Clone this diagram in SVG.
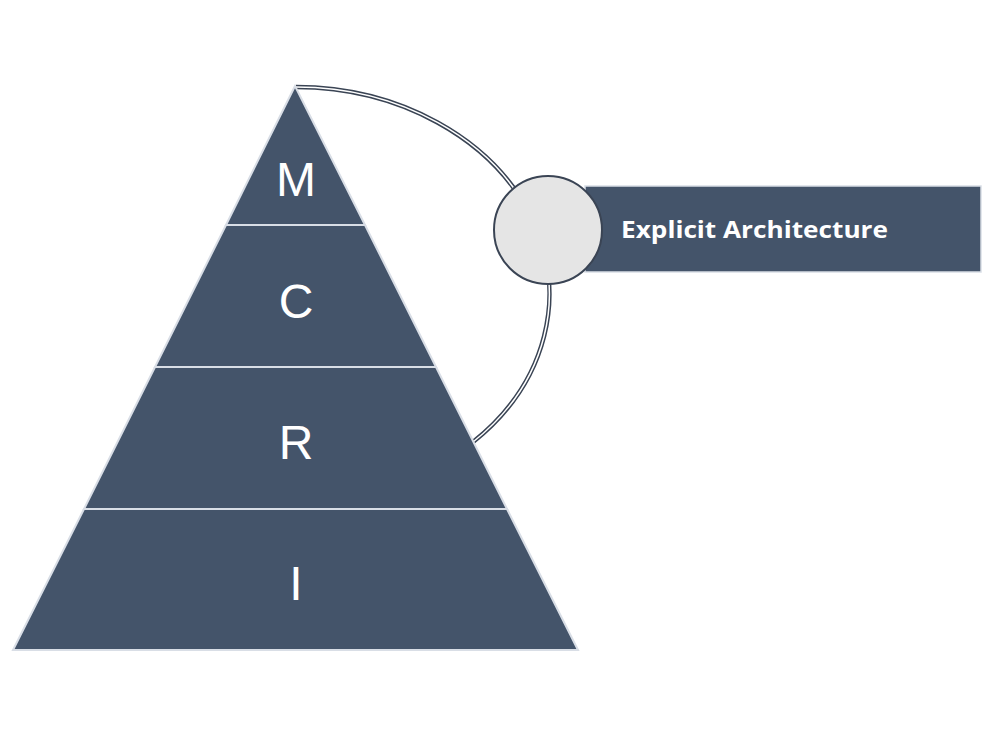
<svg xmlns="http://www.w3.org/2000/svg" width="1008" height="756" viewBox="0 0 1008 756">
<style>
.tier{fill:#44546A;stroke:#D9DEE6;stroke-width:2}
.big{font-family:"Liberation Sans",Arial,sans-serif;font-size:48px;fill:#FFFFFF;text-anchor:middle}
.lbl{font-family:"Open Sans","Liberation Sans",sans-serif;font-weight:bold;font-size:23px;fill:#FFFFFF}
.arcOut{fill:none;stroke:#3A4454;stroke-width:4.5}
.arcIn{fill:none;stroke:#FFFFFF;stroke-width:1.5}
</style>
<rect width="1008" height="756" fill="#FFFFFF"/>
<g id="connectors">
<path class="arcOut" d="M296,87 A254,207 0 0 1 473,442"/>
<path class="arcIn" d="M296,87 A254,207 0 0 1 473,442"/>
</g>
<g id="pyramid">
<g id="tier-M"><polygon class="tier" points="295,86 365,225 226,225"/><text class="big" x="296" y="196">M</text></g>
<g id="tier-C"><polygon class="tier" points="226,225 365,225 436,367 155,367"/><text class="big" x="296" y="318">C</text></g>
<g id="tier-R"><polygon class="tier" points="155,367 436,367 507,509 84,509"/><text class="big" x="296" y="459">R</text></g>
<g id="tier-I"><polygon class="tier" points="84,509 507,509 578,650 13,650"/><text class="big" x="296" y="600">I</text></g>
</g>
<g id="explicit-architecture">
<rect x="585" y="186" width="396" height="86" fill="#44546A" stroke="#D9DEE6" stroke-width="1.5"/>
<circle cx="548" cy="230" r="54" fill="#E5E5E5" stroke="#3A4454" stroke-width="2"/>
<text class="lbl" x="621" y="238" textLength="267" lengthAdjust="spacingAndGlyphs">Explicit Architecture</text>
</g>
</svg>
